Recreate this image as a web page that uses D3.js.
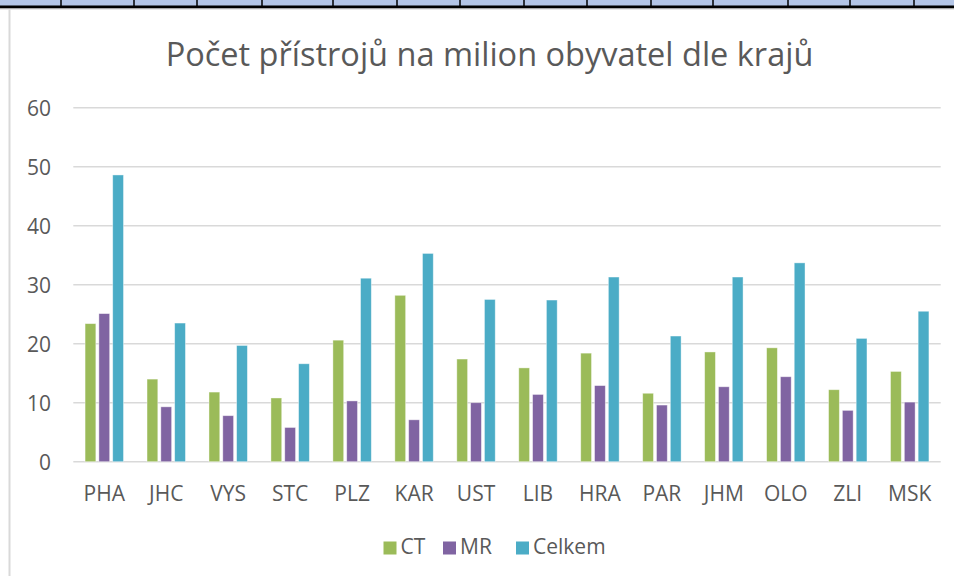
<!DOCTYPE html>
<html><head><meta charset="utf-8">
<script src="https://cdn.jsdelivr.net/npm/d3@7"></script>
<style>
html,body{margin:0;padding:0;background:#fff;}
svg{display:block;}
text{font-family:"Open Sans",sans-serif;fill:#595959;}
</style></head>
<body>
<script>
const categories = ["PHA","JHC","VYS","STC","PLZ","KAR","UST","LIB","HRA","PAR","JHM","OLO","ZLI","MSK"];
const seriesNames = ["CT","MR","Celkem"];
const ctValues = [23.4,14.0,11.8,10.8,20.6,28.2,17.4,15.9,18.4,11.6,18.6,19.3,12.2,15.3];
const mrValues = [25.1,9.3,7.8,5.8,10.3,7.1,10.0,11.4,12.9,9.6,12.7,14.4,8.7,10.1];
const celkemValues = [48.6,23.5,19.7,16.6,31.1,35.3,27.5,27.4,31.3,21.3,31.3,33.7,20.9,25.5];
const yTicks = [0,10,20,30,40,50,60];
const colors = ["#9BBB59","#8064A2","#4BACC6"];
const tableLines = [61,134,197,262,333,397,460,524,587,651,713,788,850,914];

const W = 954, H = 576;
const svg = d3.select("body").append("svg").attr("width",W).attr("height",H);

// surrounding spreadsheet fragments
svg.append("rect").attr("x",0).attr("y",0).attr("width",W).attr("height",6).attr("fill","#B4C6E7");
svg.selectAll("line.tl").data(tableLines).join("line")
  .attr("x1",d=>d).attr("x2",d=>d).attr("y1",0).attr("y2",7)
  .attr("stroke","#000").attr("stroke-width",1.5);
svg.append("rect").attr("x",0).attr("y",5.5).attr("width",W).attr("height",3).attr("fill","#000");
svg.append("rect").attr("x",0).attr("y",8.5).attr("width",W).attr("height",1).attr("fill","#d0d0d0");
svg.append("rect").attr("x",8.5).attr("y",9.5).attr("width",2).attr("height",H).attr("fill","#d9d9d9");

const data = categories.map((c,i)=>({cat:c, vals:[ctValues[i],mrValues[i],celkemValues[i]]}));

const x = d3.scaleBand().domain(categories).range([73.3,940.7]).paddingInner(0.38).paddingOuter(0.19);
const xs = d3.scaleBand().domain(seriesNames).range([0,x.bandwidth()]).paddingInner(0.22).paddingOuter(0);
const y = d3.scaleLinear().domain([0,60]).range([461.7,107.7]);

// gridlines
svg.append("g").selectAll("line").data(yTicks).join("line")
  .attr("x1",73.3).attr("x2",940.7)
  .attr("y1",d=>y(d)).attr("y2",d=>y(d))
  .attr("stroke","#d9d9d9").attr("stroke-width",1.4);

// y axis labels
const yAxis = d3.axisLeft(y).tickValues(yTicks).tickSize(0).tickPadding(0).tickFormat(d3.format("d"));
const gy = svg.append("g").attr("transform","translate(51,0)").call(yAxis);
gy.select(".domain").remove();
gy.selectAll("text").attr("font-size",21).attr("fill","#595959").attr("font-family","Open Sans").attr("dy","0.36em");

// bars
const groups = svg.append("g").selectAll("g").data(data).join("g")
  .attr("transform",d=>`translate(${x(d.cat)},0)`);
groups.selectAll("rect").data(d=>d.vals.map((v,j)=>({s:seriesNames[j],v,j}))).join("rect")
  .attr("x",d=>xs(d.s)).attr("width",xs.bandwidth())
  .attr("y",d=>y(d.v)).attr("height",d=>y(0)-y(d.v))
  .attr("fill",d=>colors[d.j])
  .attr("stroke","#ffffff").attr("stroke-opacity",0.5).attr("stroke-width",0.8);

// x axis labels
const xAxis = d3.axisBottom(x).tickSize(0).tickPadding(0);
const gx = svg.append("g").attr("transform","translate(0,500.5)").call(xAxis);
gx.select(".domain").remove();
gx.selectAll("text").attr("font-size",21).attr("fill","#595959").attr("font-family","Open Sans").attr("dy",0).attr("y",0);

// title
svg.append("text").attr("x",489.5).attr("y",66).attr("text-anchor","middle")
  .attr("font-size",32.5).attr("fill","#595959")
  .text("Počet přístrojů na milion obyvatel dle krajů");

// legend
const legendX = [383.5,443,516];
const lg = svg.append("g").selectAll("g").data(seriesNames).join("g")
  .attr("transform",(d,i)=>`translate(${legendX[i]},0)`);
lg.append("rect").attr("x",0).attr("y",541.5).attr("width",13).attr("height",13).attr("fill",(d,i)=>colors[i]);
lg.append("text").attr("x",17).attr("y",554).attr("font-size",21).text(d=>d);
</script>
</body></html>
